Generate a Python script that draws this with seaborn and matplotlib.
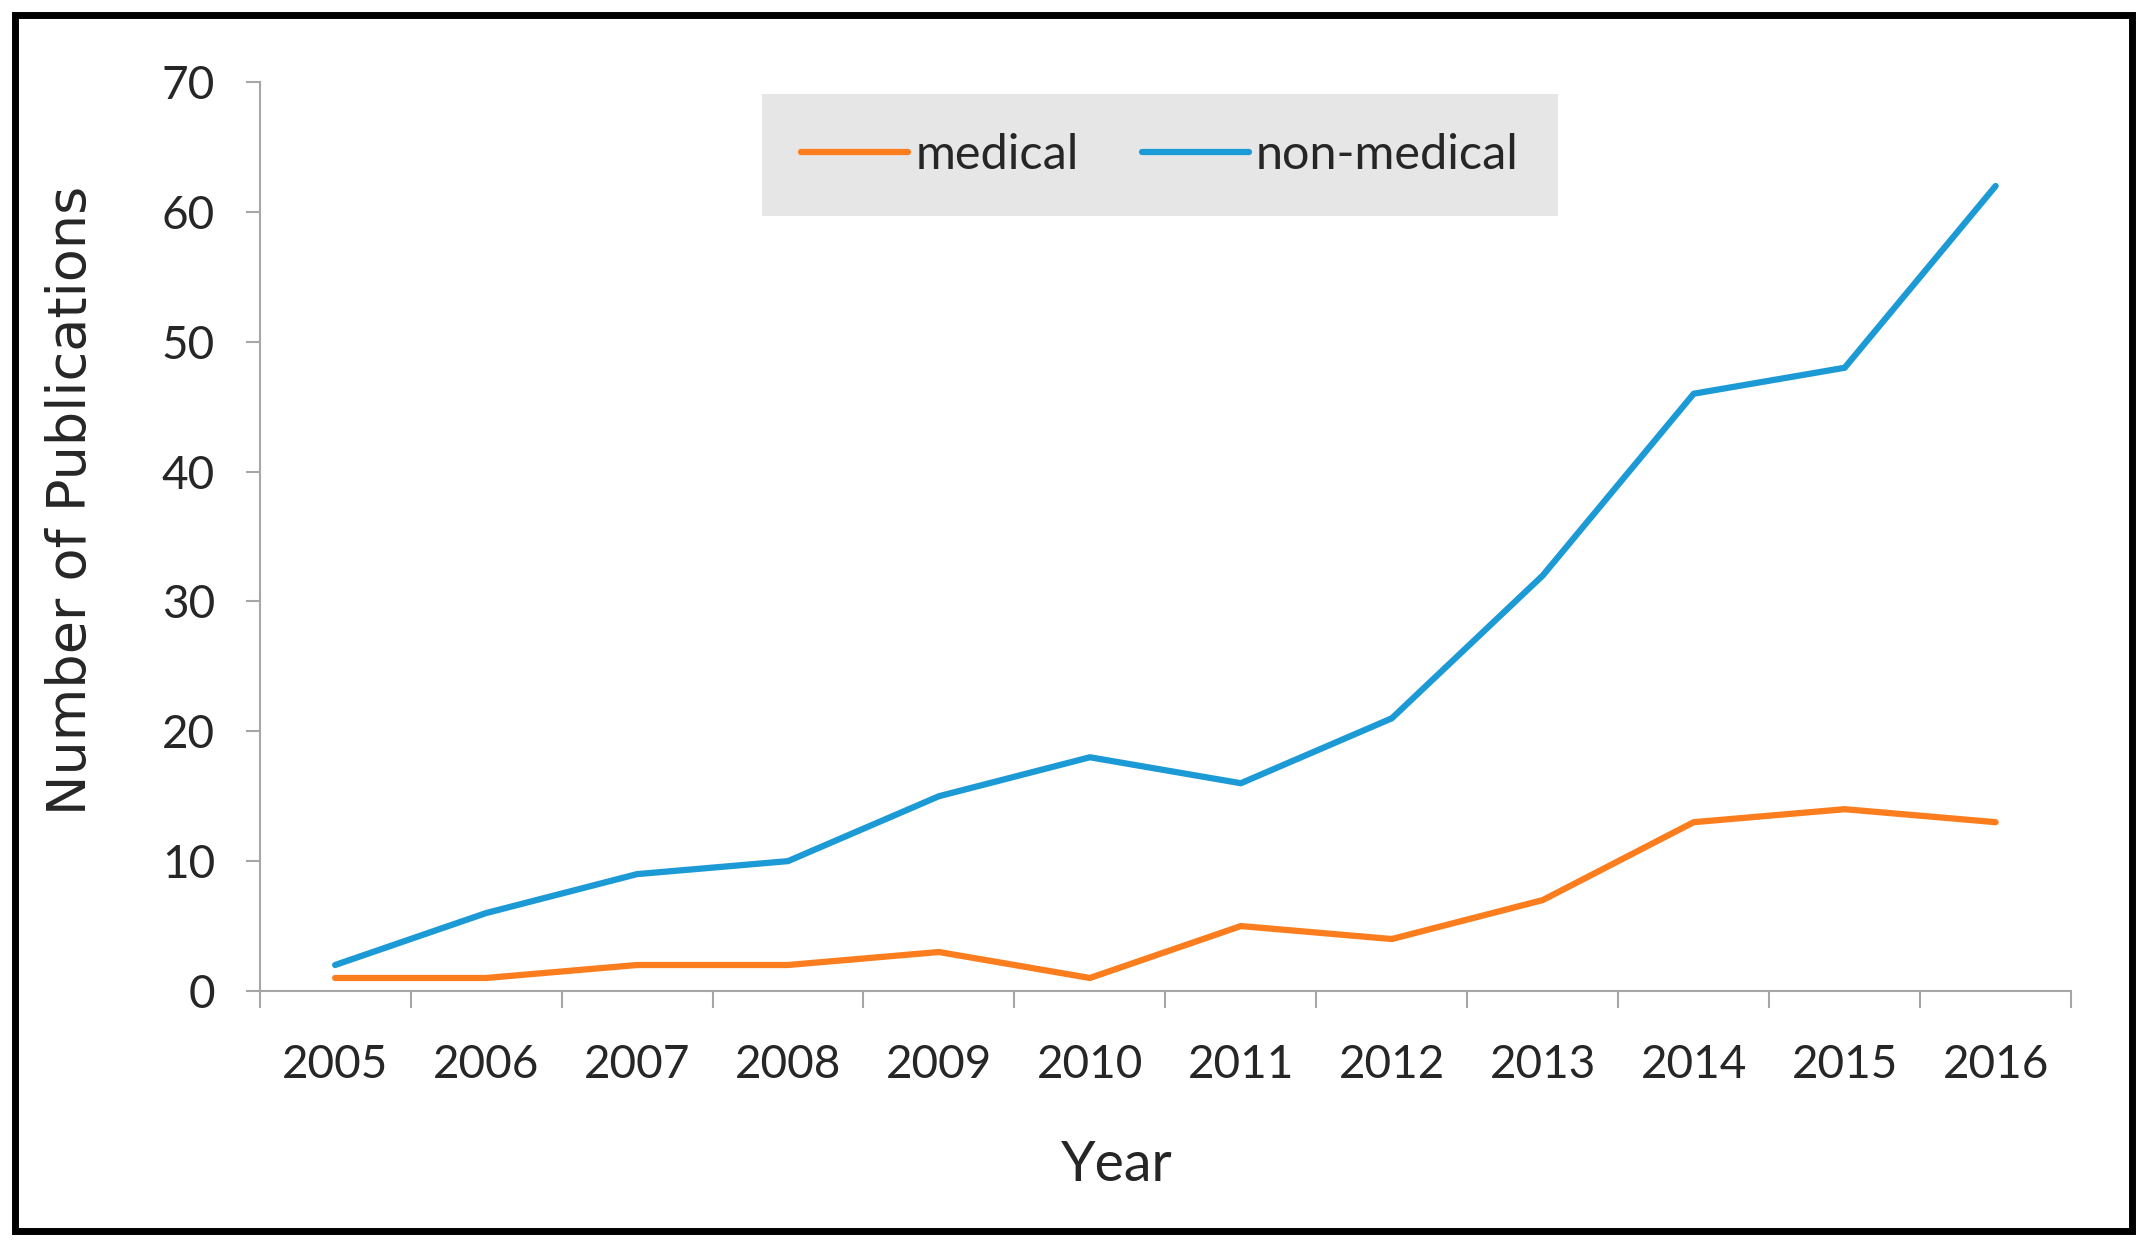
import numpy as np
import pandas as pd
import matplotlib
matplotlib.use("Agg")
import matplotlib.pyplot as plt
import seaborn as sns
from matplotlib.patches import Rectangle

years = [2005, 2006, 2007, 2008, 2009, 2010, 2011, 2012, 2013, 2014, 2015, 2016]
medical = [1, 1, 2, 2, 3, 1, 5, 4, 7, 13, 14, 13]
non_medical = [2, 6, 9, 10, 15, 18, 16, 21, 32, 46, 48, 62]
series_names = ["medical", "non-medical"]
series_colors = ["#fb7d1d", "#1c9ad6"]
y_ticks = [0, 10, 20, 30, 40, 50, 60, 70]

df = pd.DataFrame({
    "Year": years * 2,
    "count": medical + non_medical,
    "series": [series_names[0]] * len(years) + [series_names[1]] * len(years),
})

sns.set_style("white")
plt.rcParams["font.family"] = ["Lato", "DejaVu Sans"]

fig = plt.figure(figsize=(21.44, 12.44), dpi=100)
ax = fig.add_axes([0.1211, 0.2034, 0.9660 - 0.1211, 0.934 - 0.2034])

sns.lineplot(data=df, x="Year", y="count", hue="series", palette=series_colors,
             linewidth=4.5, ax=ax, legend=True)

ax.set_xlim(years[0] - 0.5, years[-1] + 0.5)
ax.set_ylim(0, 70)
ax.set_yticks(y_ticks)
ax.set_yticklabels([str(t) for t in y_ticks], fontsize=33)

# category boundaries as major ticks, year labels as minor ticks
ax.set_xticks(np.arange(years[0] - 0.5, years[-1] + 1, 1))
ax.set_xticklabels([])
ax.set_xticks(years, minor=True)
ax.set_xticklabels([str(y) for y in years], minor=True, fontsize=33)

spine_col = "#a6a6a6"
for s in ["top", "right"]:
    ax.spines[s].set_visible(False)
for s in ["left", "bottom"]:
    ax.spines[s].set_color(spine_col)
    ax.spines[s].set_linewidth(1.5)

ax.tick_params(axis="y", which="major", direction="out", length=10, width=1.5,
               color=spine_col, pad=22, left=True)
ax.tick_params(axis="x", which="major", direction="out", length=12, width=1.5,
               color=spine_col, bottom=True)
ax.tick_params(axis="x", which="minor", length=0, pad=38)

ax.set_xlabel("Year", fontsize=40)
ax.xaxis.set_label_coords(0.473, -0.1925)
ax.xaxis.label.set_va("center")
ax.set_ylabel("Number of Publications", fontsize=39, family="DejaVu Sans")
ax.yaxis.set_label_coords(-0.104, 0.54)
ax.yaxis.label.set_va("center")

handles, labels = ax.get_legend_handles_labels()
leg = ax.legend(handles, labels, loc="center", bbox_to_anchor=(0.497, 0.92),
                ncol=2, fontsize=35, frameon=True, fancybox=False,
                facecolor="#e6e6e6", edgecolor="none", framealpha=1,
                handlelength=2.2, handletextpad=0.15, columnspacing=1.3,
                borderpad=0.8, borderaxespad=0)
for line in leg.get_lines():
    line.set_linewidth(4.5)

# outer black frame
fig.patches.append(Rectangle((0.0068, 0.0105), 0.9942 - 0.0068, 0.9883 - 0.0105,
                             transform=fig.transFigure, fill=False,
                             edgecolor="black", linewidth=5))

fig.savefig("out.png", dpi=100)
